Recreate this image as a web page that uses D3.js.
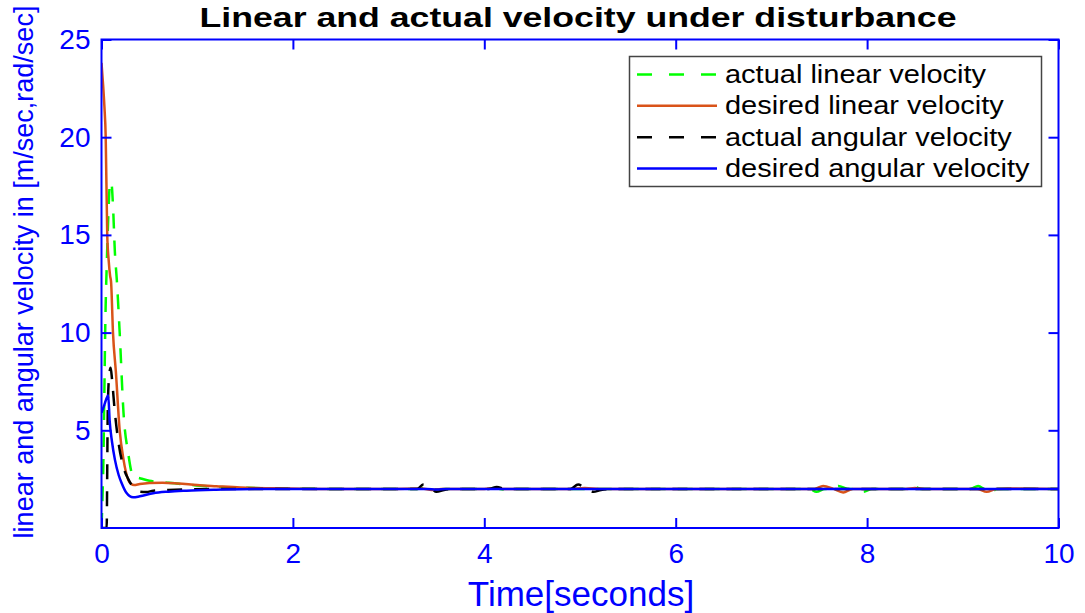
<!DOCTYPE html>
<html>
<head>
<meta charset="utf-8">
<script src="https://cdn.jsdelivr.net/npm/d3@7"></script>
<style>
  html, body { margin: 0; padding: 0; background: #ffffff; }
  svg { display: block; font-family: "Liberation Sans", Arial, Helvetica, sans-serif; }
</style>
</head>
<body>
<svg id="chart" width="1085" height="613"></svg>
<script>
// ---------------- data ----------------
const chartTitle = "Linear and actual velocity under disturbance";
const xLabel = "Time[seconds]";
const yLabel = "linear and angular velocity in [m/sec,rad/sec]";
const xTicks = [0, 2, 4, 6, 8, 10];
const yTicks = [5, 10, 15, 20, 25];
const seriesNames = ["actual linear velocity", "desired linear velocity", "actual angular velocity", "desired angular velocity"];

// actual linear velocity (green dashed)
const actLinT = [0, 0.01, 0.02, 0.03, 0.04, 0.055, 0.07, 0.09, 0.105, 0.12, 0.14, 0.16, 0.19, 0.23, 0.28, 0.33, 0.4, 0.5, 0.7, 0.9, 1.2, 1.5, 1.9, 2.5, 3.3, 3.38, 3.5, 3.6, 4.0, 4.1, 4.2, 4.4, 5.0, 5.1, 5.2, 6.0, 7.4, 7.47, 7.56, 7.63, 7.7, 7.8, 7.9, 7.96, 8.05, 8.4, 8.48, 8.56, 9.08, 9.16, 9.22, 9.28, 9.36, 9.5, 10];
const actLinV = [0, 1.5, 3.5, 7, 10.5, 13.5, 15.8, 17.7, 17.6, 16.5, 14.1, 12.7, 10, 5.9, 3.8, 2.65, 2.55, 2.42, 2.32, 2.22, 2.1, 2.06, 2.02, 2.0, 2.0, 2.07, 1.96, 2.0, 2.0, 2.05, 1.97, 2.0, 2.0, 2.0, 2.0, 2.0, 2.0, 1.85, 2.0, 2.0, 2.15, 2.0, 2.0, 1.85, 2.0, 2.0, 2.15, 2.0, 2.0, 2.15, 2.0, 1.8, 2.0, 2.0, 2.0];

// desired linear velocity (orange solid)
const desLinT = [0, 0.015, 0.03, 0.044, 0.06, 0.075, 0.09, 0.1, 0.12, 0.15, 0.19, 0.23, 0.28, 0.31, 0.34, 0.4, 0.5, 0.64, 0.8, 1.0, 1.2, 1.45, 1.8, 2.3, 3.0, 3.35, 3.45, 3.55, 4.0, 4.1, 4.2, 4.9, 5.05, 5.2, 7.45, 7.54, 7.65, 7.75, 7.85, 8.0, 8.4, 8.5, 8.6, 9.15, 9.25, 9.35, 9.5, 10];
const desLinV = [23.8, 22.8, 21.6, 20, 15, 13.7, 12.9, 12.6, 10, 8.0, 5.0, 3.5, 2.46, 2.25, 2.2, 2.25, 2.3, 2.32, 2.28, 2.2, 2.14, 2.07, 2.03, 2.0, 2.0, 2.02, 1.95, 2.0, 2.0, 2.04, 2.0, 2.0, 2.05, 2.0, 2.0, 2.15, 2.0, 1.82, 2.0, 2.0, 2.0, 2.05, 2.0, 2.0, 1.85, 2.0, 2.02, 2.0];

// actual angular velocity (black dashed)
const actAngT = [0, 0.05, 0.054, 0.06, 0.065, 0.08, 0.096, 0.11, 0.14, 0.18, 0.23, 0.28, 0.33, 0.4, 0.47, 0.54, 0.7, 0.9, 1.2, 3.3, 3.36, 3.43, 3.5, 3.58, 3.7, 4.05, 4.13, 4.22, 4.9, 4.98, 5.06, 5.14, 5.22, 5.35, 10];
const actAngV = [0, 0, 0, 3, 5.9, 7.8, 8.2, 7.6, 5.9, 4.3, 3.1, 2.5, 2.1, 1.86, 1.84, 1.91, 1.95, 1.98, 2.0, 2.0, 2.22, 2.1, 1.85, 1.95, 2.0, 2.0, 2.1, 2.0, 2.0, 2.22, 2.05, 1.85, 1.95, 2.0, 2.0];

// desired angular velocity (blue solid)
const desAngT = [0, 0.03, 0.05, 0.07, 0.085, 0.11, 0.14, 0.18, 0.21, 0.26, 0.33, 0.4, 0.54, 0.7, 0.89, 1.2, 1.6, 3.4, 3.5, 3.6, 10];
const desAngV = [5.9, 6.3, 6.6, 6.8, 5.5, 4.4, 3.5, 2.7, 2.3, 1.8, 1.57, 1.62, 1.78, 1.86, 1.91, 1.96, 2.0, 2.0, 1.97, 2.0, 2.0];

// ---------------- drawing ----------------
const L = 101.5, R = 1058.5, T = 39.5, B = 528;
const blue = "#0000ff";

const svg = d3.select("#chart");
const x = d3.scaleLinear().domain([0, 10]).range([L, R]);
const y = d3.scaleLinear().domain([0, 25]).range([B, T]);

const zip = (ts, vs) => ts.map((t, i) => ({ t, v: vs[i] }));
const series = [
  { name: seriesNames[0], data: zip(actLinT, actLinV), color: "#00ff00", dash: "15,12" },
  { name: seriesNames[1], data: zip(desLinT, desLinV), color: "#D95319", dash: null },
  { name: seriesNames[2], data: zip(actAngT, actAngV), color: "#000000", dash: "15,12" },
  { name: seriesNames[3], data: zip(desAngT, desAngV), color: "#0000ff", dash: null }
];

svg.append("defs").append("clipPath").attr("id", "plotclip")
  .append("rect").attr("x", L).attr("y", T - 2).attr("width", R - L).attr("height", B - T + 2);

const line = d3.line().x(d => x(d.t)).y(d => y(d.v)).curve(d3.curveMonotoneX);
const plot = svg.append("g").attr("clip-path", "url(#plotclip)");
series.forEach(s => {
  plot.append("path").datum(s.data)
    .attr("d", line)
    .attr("fill", "none")
    .attr("stroke", s.color)
    .attr("stroke-width", 2.5)
    .attr("stroke-dasharray", s.dash)
    .attr("stroke-linejoin", "round");
});

// axes
function styleAxis(g) {
  g.select(".domain").remove();
  g.selectAll(".tick line").attr("stroke", blue).attr("stroke-width", 2);
  g.selectAll(".tick text").attr("fill", blue).attr("font-size", 28)
    .attr("font-family", "Liberation Sans, Arial, sans-serif");
}
svg.append("g").attr("transform", `translate(${L},0)`)
  .call(d3.axisLeft(y).tickValues(yTicks).tickSizeInner(-10).tickSizeOuter(0).tickPadding(11))
  .call(styleAxis);
svg.append("g").attr("transform", `translate(${R},0)`)
  .call(d3.axisRight(y).tickValues(yTicks).tickSizeInner(-10).tickSizeOuter(0).tickFormat(""))
  .call(styleAxis);
svg.append("g").attr("transform", `translate(0,${B})`)
  .call(d3.axisBottom(x).tickValues(xTicks).tickSizeInner(-10).tickSizeOuter(0).tickPadding(15))
  .call(styleAxis);
svg.append("g").attr("transform", `translate(0,${T})`)
  .call(d3.axisTop(x).tickValues(xTicks).tickSizeInner(-10).tickSizeOuter(0).tickFormat(""))
  .call(styleAxis);

svg.append("rect").attr("x", L).attr("y", T).attr("width", R - L).attr("height", B - T)
  .attr("fill", "none").attr("stroke", blue).attr("stroke-width", 2);

// title and labels
svg.append("text").attr("x", (L + R) / 2 - 2).attr("y", 27)
  .attr("text-anchor", "middle").attr("font-weight", "bold").attr("font-size", 28)
  .attr("textLength", 757).attr("lengthAdjust", "spacingAndGlyphs")
  .attr("fill", "#000").text(chartTitle);

svg.append("text").attr("x", 581).attr("y", 606)
  .attr("text-anchor", "middle").attr("font-size", 35).attr("fill", blue).text(xLabel);

svg.append("text").attr("transform", "translate(33,272) rotate(-90)")
  .attr("text-anchor", "middle").attr("font-size", 27).attr("fill", blue).text(yLabel);

// legend
const lg = svg.append("g");
lg.append("rect").attr("x", 629.5).attr("y", 56.5).attr("width", 412).attr("height", 130)
  .attr("fill", "#ffffff").attr("stroke", "#444").attr("stroke-width", 1.5);
const rowY = d3.scalePoint().domain(seriesNames).range([74.5, 168.5]);
series.forEach(s => {
  const yy = rowY(s.name);
  lg.append("line").attr("x1", 637).attr("x2", 717).attr("y1", yy).attr("y2", yy)
    .attr("stroke", s.color).attr("stroke-width", 2.5).attr("stroke-dasharray", s.dash ? "15,17" : null);
  lg.append("text").attr("transform", `translate(725,${yy + 8.5}) scale(1.16,1)`)
    .attr("font-size", 25).attr("fill", "#000").text(s.name);
});
</script>
</body>
</html>
